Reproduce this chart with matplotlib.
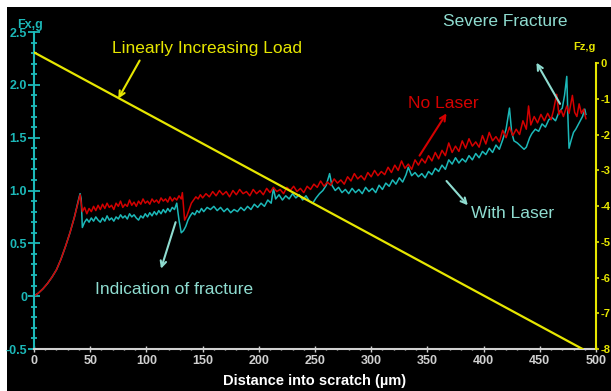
import matplotlib
matplotlib.use("Agg")
import matplotlib.pyplot as plt
from matplotlib.patches import Rectangle
from matplotlib.ticker import MultipleLocator

# scratch test, Fx (friction) vs distance, two samples + normal load ramp
no_laser_x = [0, 4, 8, 12, 16, 20, 24, 28, 32, 36, 40, 41, 43, 45, 47, 49, 51, 53, 55, 57,
              59, 61, 63, 65, 67, 69, 71, 73, 75, 77, 79, 81, 83, 85, 87, 89, 91, 93, 95, 97,
              99, 101, 103, 105, 107, 109, 111, 113, 115, 117, 119, 121, 123, 125, 127, 129,
              131, 132, 134, 136, 138, 140, 142, 144, 146, 148, 150, 153, 156, 159, 162, 165,
              168, 171, 174, 177, 180, 183, 186, 189, 192, 195, 198, 201, 204, 207, 210, 213,
              216, 219, 222, 225, 228, 231, 234, 237, 240, 243, 246, 249, 252, 255, 258, 261,
              264, 267, 270, 273, 276, 279, 282, 285, 288, 291, 294, 297, 300, 303, 306, 309,
              312, 315, 318, 321, 324, 327, 330, 333, 336, 339, 342, 345, 348, 351, 354, 357,
              360, 363, 366, 369, 372, 375, 378, 381, 384, 387, 390, 393, 396, 399, 402, 405,
              408, 411, 414, 417, 420, 423, 426, 429, 432, 435, 438, 440, 442, 445, 448, 451,
              454, 457, 460, 462, 465, 467, 469, 471, 474, 476, 479, 481, 483, 485, 487, 489, 491]
no_laser_y = [0.00, 0.03, 0.07, 0.12, 0.18, 0.25, 0.35, 0.47, 0.60, 0.75, 0.92, 0.96, 0.80, 0.84,
              0.78, 0.83, 0.80, 0.85, 0.81, 0.86, 0.82, 0.87, 0.83, 0.88, 0.84, 0.86, 0.82, 0.88,
              0.85, 0.90, 0.84, 0.87, 0.85, 0.91, 0.86, 0.89, 0.85, 0.90, 0.87, 0.92, 0.88, 0.90,
              0.87, 0.92, 0.89, 0.91, 0.88, 0.93, 0.90, 0.92, 0.89, 0.94, 0.90, 0.93, 0.91, 0.95,
              0.92, 0.98, 0.72, 0.76, 0.82, 0.88, 0.91, 0.94, 0.92, 0.96, 0.93, 0.97, 0.94, 0.99,
              0.95, 1.00, 0.96, 0.99, 0.94, 1.00, 0.96, 1.01, 0.97, 0.99, 0.95, 1.01, 0.97, 1.00,
              0.96, 1.02, 0.98, 1.03, 0.99, 1.01, 0.97, 1.03, 1.00, 1.04, 0.99, 1.02, 0.98, 1.04,
              1.01, 1.06, 1.03, 1.09, 1.04, 1.08, 1.05, 1.11, 1.07, 1.10, 1.06, 1.13, 1.09, 1.16,
              1.11, 1.14, 1.10, 1.17, 1.13, 1.19, 1.14, 1.18, 1.15, 1.22, 1.17, 1.24, 1.19, 1.28,
              1.21, 1.25, 1.20, 1.29, 1.24, 1.30, 1.26, 1.33, 1.28, 1.36, 1.30, 1.38, 1.33, 1.45,
              1.36, 1.42, 1.37, 1.47, 1.40, 1.49, 1.42, 1.46, 1.41, 1.52, 1.44, 1.55, 1.47, 1.51,
              1.46, 1.57, 1.50, 1.60, 1.52, 1.58, 1.53, 1.66, 1.58, 1.80, 1.62, 1.70, 1.64, 1.72,
              1.66, 1.73, 1.67, 1.75, 1.91, 1.72, 1.76, 1.70, 1.80, 1.73, 1.90, 1.74, 1.70, 1.82,
              1.73, 1.77, 1.68]

with_laser_x = [0, 4, 8, 12, 16, 20, 24, 28, 32, 36, 40, 41, 42, 43, 45, 47, 49, 51, 53, 55, 57,
                59, 61, 63, 65, 67, 69, 71, 73, 75, 77, 79, 81, 83, 85, 87, 89, 91, 93, 95, 97,
                99, 101, 103, 105, 107, 109, 111, 113, 115, 117, 119, 121, 123, 125, 127, 129,
                131, 133, 135, 137, 139, 141, 143, 145, 147, 149, 151, 154, 157, 160, 163, 166,
                169, 172, 175, 178, 181, 184, 187, 190, 193, 196, 199, 202, 205, 208, 211, 213,
                215, 218, 221, 224, 227, 230, 233, 236, 239, 242, 245, 248, 251, 254, 257, 260,
                263, 265, 268, 271, 274, 277, 280, 283, 286, 289, 292, 295, 298, 301, 304, 307,
                310, 313, 316, 319, 322, 325, 328, 331, 333, 336, 339, 342, 345, 348, 351, 354,
                357, 360, 363, 366, 369, 372, 375, 378, 381, 384, 387, 390, 393, 396, 399, 402,
                405, 408, 411, 414, 417, 420, 423, 425, 427, 430, 433, 436, 438, 441, 443, 446,
                449, 452, 455, 458, 461, 464, 467, 470, 472, 474, 475, 476, 478, 480, 482, 484,
                486, 488, 490, 491]
with_laser_y = [0.00, 0.03, 0.07, 0.12, 0.18, 0.25, 0.35, 0.47, 0.60, 0.75, 0.93, 0.97, 0.92,
                0.65, 0.70, 0.73, 0.70, 0.74, 0.71, 0.75, 0.72, 0.70, 0.74, 0.71, 0.76, 0.72,
                0.74, 0.71, 0.75, 0.73, 0.77, 0.74, 0.76, 0.73, 0.78, 0.75, 0.77, 0.74, 0.72,
                0.76, 0.74, 0.78, 0.75, 0.79, 0.76, 0.80, 0.77, 0.81, 0.78, 0.82, 0.79, 0.83,
                0.80, 0.84, 0.82, 0.88, 0.72, 0.60, 0.62, 0.66, 0.72, 0.76, 0.79, 0.77, 0.81,
                0.79, 0.83, 0.80, 0.84, 0.82, 0.85, 0.81, 0.84, 0.80, 0.83, 0.79, 0.82, 0.80,
                0.84, 0.81, 0.85, 0.82, 0.87, 0.84, 0.88, 0.85, 0.91, 0.88, 1.02, 0.92, 0.96,
                0.91, 0.95, 0.92, 0.97, 0.93, 0.96, 0.91, 0.95, 0.90, 0.88, 0.93, 0.97, 1.00,
                1.05, 1.16, 1.05, 1.00, 1.03, 0.98, 1.01, 0.97, 1.02, 0.98, 1.01, 0.97, 1.03,
                0.99, 1.02, 0.98, 1.05, 1.01, 1.07, 1.04, 1.10, 1.06, 1.12, 1.08, 1.15, 1.22,
                1.14, 1.17, 1.13, 1.16, 1.12, 1.18, 1.15, 1.21, 1.18, 1.24, 1.20, 1.29, 1.25,
                1.31, 1.26, 1.30, 1.27, 1.33, 1.29, 1.35, 1.31, 1.37, 1.34, 1.40, 1.36, 1.43,
                1.39, 1.48, 1.58, 1.78, 1.55, 1.47, 1.45, 1.42, 1.39, 1.41, 1.50, 1.54, 1.58,
                1.56, 1.63, 1.60, 1.67, 1.69, 1.66, 1.74, 1.78, 1.90, 2.08, 1.70, 1.40, 1.48,
                1.55, 1.58, 1.62, 1.66, 1.70, 1.77, 1.72]

# normal load Fz (right axis)
load_x = [0, 488]
load_fz = [0.3, -8.0]

x_ticks = [0, 50, 100, 150, 200, 250, 300, 350, 400, 450, 500]
fx_ticks = [-0.5, 0, 0.5, 1.0, 1.5, 2.0, 2.5]
fx_labels = ["-0.5", "0", "0.5", "1.0", "1.5", "2.0", "2.5"]
fz_ticks = [0, -1, -2, -3, -4, -5, -6, -7, -8]

CYAN = "#1cb8b8"
RED = "#d40000"
YELLOW = "#e6e600"
PALE = "#8fdcd0"
GREY = "#d0d0d0"

plt.rcParams['font.family'] = ['Liberation Sans', 'DejaVu Sans']
plt.rcParams['axes.unicode_minus'] = False

fig = plt.figure(figsize=(6.11, 3.91), dpi=100, facecolor="white")
fig.patches.append(Rectangle((7 / 611, 0), 1, 1 - 7 / 391, transform=fig.transFigure,
                             facecolor="black", edgecolor="none", zorder=-5))

ax = fig.add_axes([34 / 611, 42 / 391, 562 / 611, 317 / 391])
ax.set_facecolor("black")
ax.plot(with_laser_x, with_laser_y, color=CYAN, lw=1.1)
ax.plot(no_laser_x, no_laser_y, color=RED, lw=1.1)
ax.set_xlim(0, 500)
ax.set_ylim(-0.5, 2.5)

for s in ["top", "right"]:
    ax.spines[s].set_visible(False)
ax.spines["left"].set_color(CYAN)
ax.spines["left"].set_linewidth(1.5)
ax.spines["bottom"].set_color(GREY)
ax.spines["bottom"].set_linewidth(1.5)

ax.set_xticks(x_ticks)
ax.xaxis.set_minor_locator(MultipleLocator(10))
ax.set_yticks(fx_ticks)
ax.set_yticklabels(fx_labels)
ax.yaxis.set_minor_locator(MultipleLocator(0.1))
ax.tick_params(axis="x", which="both", colors=GREY, direction="inout", labelsize=9, pad=2)
ax.tick_params(axis="x", which="major", length=4, width=1)
ax.tick_params(axis="x", which="minor", length=2, width=1)
ax.tick_params(axis="y", which="both", colors=CYAN, direction="inout", labelsize=9)
ax.tick_params(axis="y", which="major", length=8, width=1.3, pad=1)
ax.tick_params(axis="y", which="minor", length=5, width=1.3)
for lab in ax.get_xticklabels() + ax.get_yticklabels():
    lab.set_fontweight("bold")
ax.set_xlabel("Distance into scratch (µm)", color="white", fontsize=10.5,
              fontweight="bold", labelpad=5)

ax2 = ax.twinx()
ax2.patch.set_visible(False)
ax2.plot(load_x, load_fz, color=YELLOW, lw=1.6)
ax2.set_ylim(-8, 0.87)
for s in ["top", "left", "bottom"]:
    ax2.spines[s].set_visible(False)
ax2.spines["right"].set_color(YELLOW)
ax2.spines["right"].set_linewidth(1.5)
ax2.spines["right"].set_bounds(-8, 0)
ax2.set_yticks(fz_ticks)
ax2.set_yticklabels([str(v) for v in fz_ticks])
ax2.tick_params(axis="y", colors=YELLOW, direction="out", labelsize=8, pad=0.5,
                length=2.5, width=1.2)
for lab in ax2.get_yticklabels():
    lab.set_fontweight("bold")

fig.text(30 / 611, 1 - 25 / 391, "Fx,g", color=CYAN, fontsize=9, fontweight="bold",
         ha="center", va="center")
fig.text(584 / 611, 1 - 47 / 391, "Fz,g", color=YELLOW, fontsize=8, fontweight="bold",
         ha="center", va="center")

txt = dict(fontsize=12.5)
ax.annotate("", xy=(75, 1.87), xytext=(94, 2.23),
            arrowprops=dict(arrowstyle="->", color=YELLOW, lw=1.5, shrinkA=0, shrinkB=0))
ax.text(154, 2.34, "Linearly Increasing Load", color=YELLOW, ha="center", va="center", **txt)
ax.annotate("", xy=(367, 1.73), xytext=(343, 1.33),
            arrowprops=dict(arrowstyle="->", color=RED, lw=1.5, shrinkA=0, shrinkB=0))
ax.text(364, 1.82, "No Laser", color=RED, ha="center", va="center", **txt)
ax.annotate("", xy=(447, 2.21), xytext=(468, 1.82),
            arrowprops=dict(arrowstyle="->", color=PALE, lw=1.5, shrinkA=0, shrinkB=0))
ax.text(419, 2.60, "Severe Fracture", color=PALE, ha="center", va="center", **txt)
ax.annotate("", xy=(386, 0.86), xytext=(367, 1.09),
            arrowprops=dict(arrowstyle="->", color=PALE, lw=1.5, shrinkA=0, shrinkB=0))
ax.text(426, 0.78, "With Laser", color=PALE, ha="center", va="center", **txt)
ax.annotate("", xy=(113, 0.26), xytext=(126, 0.70),
            arrowprops=dict(arrowstyle="->", color=PALE, lw=1.5, shrinkA=0, shrinkB=0))
ax.text(125, 0.066, "Indication of fracture", color=PALE, ha="center", va="center", **txt)

fig.savefig("out.png", dpi=100, facecolor=fig.get_facecolor())
